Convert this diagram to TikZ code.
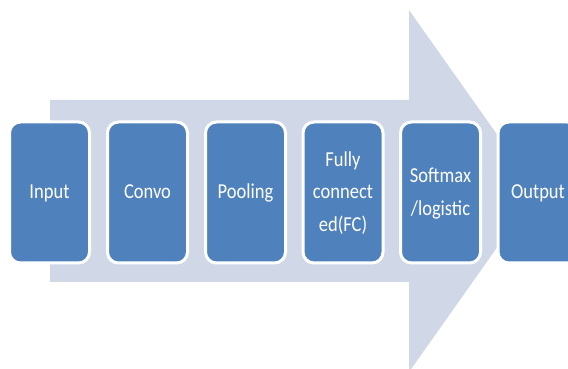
\documentclass[tikz,border=0pt]{standalone}
\usepackage{fontspec}
\setmainfont{Carlito}
\usepackage{graphicx}
\definecolor{stageblue}{HTML}{4F81BD}
\definecolor{flowgrey}{HTML}{D0D8E8}
\begin{document}
\begin{tikzpicture}[x=1pt,y=1pt,
  stagebox/.style={fill=stageblue, draw=white, line width=3pt,
    rounded corners=11pt, minimum width=80pt, minimum height=141pt,
    inner sep=0pt, text=white, align=center,
    font=\fontsize{18.5}{28}\selectfont}]
  \useasboundingbox (0,0) rectangle (568,369);
  % big block arrow behind the stages
  \fill[flowgrey] (50,269) -- (409,269) -- (409,359) -- (537,178)
    -- (409,-3) -- (409,87) -- (50,87) -- cycle;
  % pipeline stages
  \newcommand{\stretchtext}[1]{\scalebox{1}[1.15]{\begin{tabular}{@{}c@{}}#1\end{tabular}}}
  \node[stagebox] (input)   at (49.5,176.5)  {\stretchtext{Input}};
  \node[stagebox] (convo)   at (147.5,176.5) {\stretchtext{Convo}};
  \node[stagebox] (pool)    at (245.5,176.5) {\stretchtext{Pooling}};
  \node[stagebox] (fc)      at (343,176.5)   {\stretchtext{Fully\\connect\\ed(FC)}};
  \node[stagebox] (softmax) at (440.5,176.5) {\stretchtext{Softmax\\/logistic}};
  \node[stagebox] (output)  at (538,176.5)   {\stretchtext{Output}};
\end{tikzpicture}
\end{document}
